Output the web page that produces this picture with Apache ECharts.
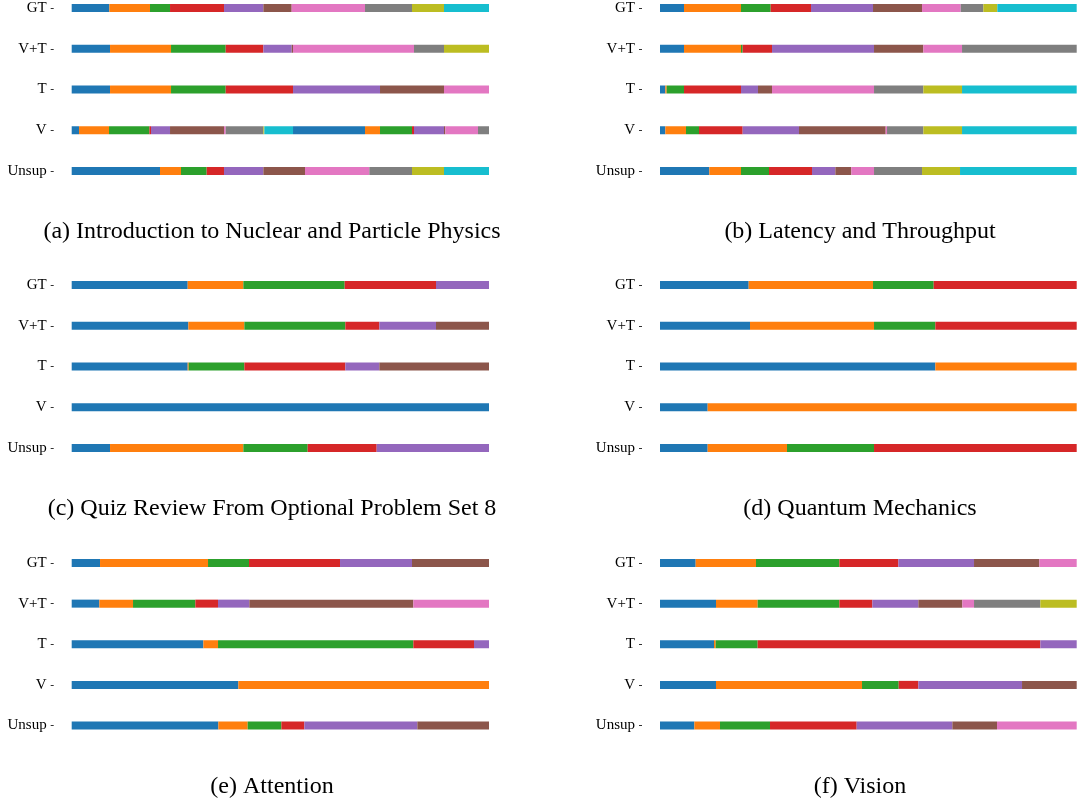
<!DOCTYPE html>
<html>
<head>
<meta charset="utf-8">
<script src="https://cdn.jsdelivr.net/npm/echarts@6/dist/echarts.min.js"></script>
<style>
html,body{margin:0;padding:0;background:#fff;}
#chart{width:1078px;height:802px;}
</style>
</head>
<body>
<div id="chart"></div>
<script>
// Row labels (top to bottom)
const rowLabels = ['GT', 'V+T', 'T', 'V', 'Unsup'];
// Panel captions
const captions = [
  '(a) Introduction to Nuclear and Particle Physics',
  '(b) Latency and Throughput',
  '(c) Quiz Review From Optional Problem Set 8',
  '(d) Quantum Mechanics',
  '(e) Attention',
  '(f) Vision'
];
// Segment lengths per row (relative duration units), segment i coloured by palette[i % 10]
const a_GT    = [113,122,60,162,118,85,220,141,96,135];
const a_VT    = [115,183,164,113,85,4,363,90,135];
const a_T     = [115,183,164,202,261,192,135];
const a_V     = [22,90,121,5,57,162,5,113,3,86,216,45,96,6,90,4,98,33];
const a_Unsup = [265,63,77,52,118,125,193,128,96,135];

const b_GT    = [72,171,89,121,186,147,116,68,42,238];
const b_VT    = [72,171,5,88,306,148,116,344];
const b_T     = [16,4,52,171,51,42,306,148,116,344];
const b_V     = [16,62,39,131,169,260,4,109,116,344];
const b_Unsup = [148,95,84,129,70,48,68,144,114,350];

const c_GT    = [348,167,304,274,159];
const c_VT    = [350,168,303,102,170,159];
const c_T     = [348,3,167,303,102,329];
const c_V     = [1252];
const c_Unsup = [115,400,193,207,337];

const d_GT    = [266,373,182,429];
const d_VT    = [270,372,184,424];
const d_T     = [826,424];
const d_V     = [143,1107];
const d_Unsup = [143,238,261,608];

const e_GT    = [85,324,123,273,216,231];
const e_VT    = [83,101,187,68,94,492,227];
const e_T     = [395,44,586,182,45];
const e_V     = [500,752];
const e_Unsup = [440,88,101,69,339,215];

const f_GT    = [107,181,250,177,227,196,112];
const f_VT    = [168,125,245,99,138,132,35,199,109];
const f_T     = [162,5,126,848,109];
const f_V     = [168,438,110,59,311,164];
const f_Unsup = [103,77,150,260,287,134,239];

const palette = ['#1f77b4','#ff7f0e','#2ca02c','#d62728','#9467bd','#8c564b','#e377c2','#7f7f7f','#bcbd22','#17becf'];

const panels = [
  [a_GT, a_VT, a_T, a_V, a_Unsup],
  [b_GT, b_VT, b_T, b_V, b_Unsup],
  [c_GT, c_VT, c_T, c_V, c_Unsup],
  [d_GT, d_VT, d_T, d_V, d_Unsup],
  [e_GT, e_VT, e_T, e_V, e_Unsup],
  [f_GT, f_VT, f_T, f_V, f_Unsup]
];

// Layout (bar area in pixels; axis sits GAP px left of the bars)
const GAP = 18;
const barLeft = [71.7, 660];
const barWidthPx = [417.3, 416.7];
const rowTop = [8, 285, 563];
const rowHeight = [163, 163, 162.5];
const captionX = [272, 860];
const captionY = [232, 509, 787];

const grid = [], xAxis = [], yAxis = [], series = [], graphic = [];
const FONT = '"Liberation Serif", "DejaVu Serif", serif';

panels.forEach((rows, p) => {
  const c = p % 2, r = Math.floor(p / 2);
  grid.push({left: barLeft[c] - GAP, top: rowTop[r], width: barWidthPx[c] + GAP, height: rowHeight[r], containLabel: false});
  const total = rows[0].reduce((s, v) => s + v, 0);
  xAxis.push({type: 'value', gridIndex: p, min: -total * GAP / barWidthPx[c], max: total, show: false});
  yAxis.push({
    type: 'category', gridIndex: p, data: rowLabels, inverse: true, boundaryGap: false, position: 'left',
    axisLine: {show: false, onZero: false},
    axisTick: {show: true, length: 3, lineStyle: {color: '#333', width: 1}},
    axisLabel: {margin: 7, fontSize: 15, fontFamily: FONT, color: '#000'},
    splitLine: {show: false}
  });
  const nSeg = Math.max(...rows.map(rr => rr.length));
  for (let i = 0; i < nSeg; i++) {
    series.push({
      type: 'bar', xAxisIndex: p, yAxisIndex: p, stack: 'p' + p, barWidth: 8, clip: false,
      itemStyle: {color: palette[i % 10]},
      data: rows.map(rr => (rr[i] !== undefined ? rr[i] : 0)),
      silent: true
    });
  }
  graphic.push({
    type: 'text', x: captionX[c], y: captionY[r],
    style: {text: captions[p], font: '24px ' + FONT, fill: '#000', textAlign: 'center', textVerticalAlign: 'middle'}
  });
});

const chart = echarts.init(document.getElementById('chart'), null, {renderer: 'canvas'});
chart.setOption({
  animation: false,
  backgroundColor: '#fff',
  grid, xAxis, yAxis, series, graphic
});
</script>
</body>
</html>
